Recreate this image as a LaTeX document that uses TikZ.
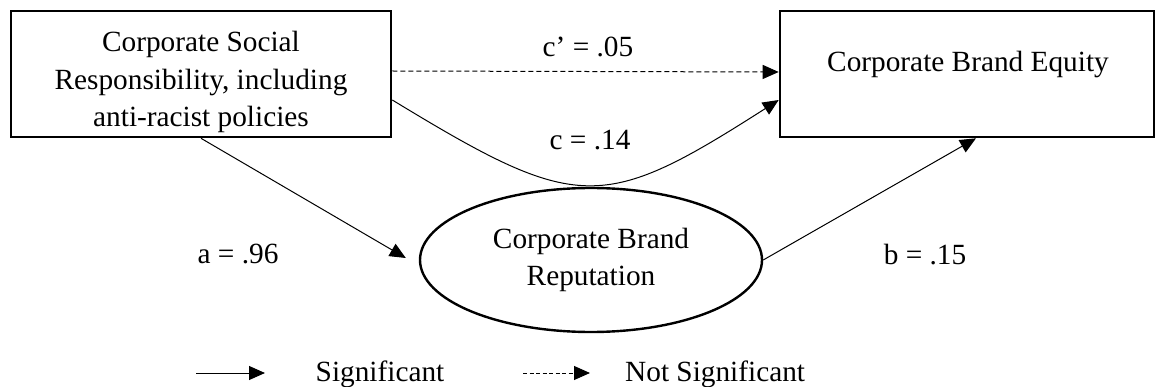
\documentclass[tikz,border=0pt]{standalone}
\usepackage{fontspec}
\setmainfont{Liberation Serif}
\usetikzlibrary{arrows.meta,shapes.geometric,calc}
\begin{document}
\begin{tikzpicture}[x=1pt,y=-1pt,
  every node/.style={font=\fontsize{29.3}{37.5}\selectfont, inner sep=0pt},
  boxnode/.style={draw, line width=2.6pt, rectangle},
  ellnode/.style={draw, line width=2.4pt, ellipse, align=center, minimum width=342pt, minimum height=144pt},
  txt/.style={align=center},
  conn/.style={line width=1pt, -{Triangle[length=16pt,width=14pt]}},
  nsconn/.style={conn, dash pattern=on 5pt off 3pt}]
\useasboundingbox (0,0) rectangle (1156,387);
% boxes
\node[boxnode, minimum width=380pt, minimum height=126pt] (csr) at (201,74) {};
\node[txt] (csrt) at (201,82) {Corporate Social\\Responsibility, including\\anti-racist policies};
\node[boxnode, minimum width=374pt, minimum height=126pt] (cbe) at (967,74) {};
\node[txt] (cbet) at (968,64) {Corporate Brand Equity};
\node[ellnode] (cbr) at (591,260) {Corporate Brand\\Reputation};
% connection points
\coordinate (dA) at ($(csr.east)+(0,-3)$);
\coordinate (dB) at ($(cbe.west)+(0,-2)$);
\coordinate (cA) at ($(csr.east)+(0,26)$);
\coordinate (cB) at ($(cbe.west)+(0,26)$);
\coordinate (bB) at ($(cbe.south)+(9,0)$);
\coordinate (aB) at ($(cbr.west)+(-13,-2)$);
% connectors
\draw[nsconn] (dA) -- (dB);
\draw[conn] (cA) .. controls (578,213) and (602,213) .. (cB);
\draw[conn] (csr.south) -- (aB);
\draw[conn] (cbr.east) -- (bB);
% labels
\node (lc1) at (588,47) {c’ = .05};
\node (lc) at (590,140) {c = .14};
\node (la) at (238,254) {a = .96};
\node (lb) at (925,255) {b = .15};
% legend
\coordinate (s1) at (196,373);
\coordinate (s2) at (265,373);
\coordinate (n1) at (523,373);
\coordinate (n2) at (590,373);
\draw[conn] (s1) -- (s2);
\draw[conn, dash pattern=on 4pt off 2.5pt] (n1) -- (n2);
\node (ls) at (380,374) {Significant};
\node[anchor=west] (lns) at (625,374) {Not Significant};
\end{tikzpicture}
\end{document}
